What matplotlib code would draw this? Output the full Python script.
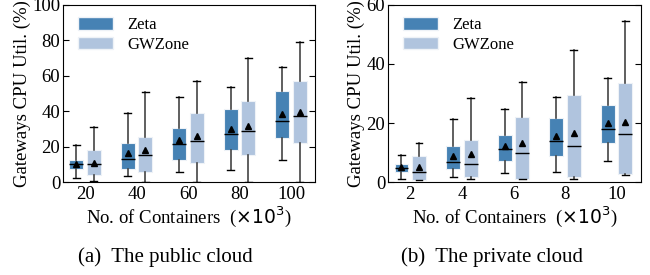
import matplotlib
matplotlib.use("Agg")
import matplotlib.pyplot as plt
from matplotlib.patches import Patch
import numpy as np

plt.rcParams['font.family'] = ['Liberation Serif', 'DejaVu Serif']
plt.rcParams['mathtext.fontset'] = 'dejavusans'

# public cloud (x10^3 containers)
pub_labels = ['20', '40', '60', '80', '100']
pub_zeta_lo = [2.4, 3.2, 5.5, 7.0, 12.6]
pub_zeta_q1 = [7.1, 7.5, 12.2, 17.9, 24.6]
pub_zeta_med = [10.0, 13.0, 21.6, 27.3, 34.6]
pub_zeta_q3 = [12.4, 22.0, 30.5, 41.2, 51.5]
pub_zeta_hi = [20.7, 38.9, 48.0, 53.8, 64.8]
pub_zeta_mean = [10.0, 16.4, 23.5, 30.0, 38.3]

pub_gw_lo = [0.4, 0.0, 0.0, 0.0, 0.0]
pub_gw_q1 = [3.8, 5.8, 10.5, 15.2, 21.8]
pub_gw_med = [10.0, 15.0, 23.1, 29.0, 37.4]
pub_gw_q3 = [17.9, 25.4, 38.9, 45.7, 57.3]
pub_gw_hi = [31.0, 51.0, 57.3, 70.0, 78.8]
pub_gw_mean = [11.0, 18.0, 25.8, 31.4, 39.5]

# private cloud
priv_labels = ['2', '4', '6', '8', '10']
priv_zeta_lo = [1.1, 1.7, 2.9, 3.5, 7.3]
priv_zeta_q1 = [3.4, 4.4, 7.1, 8.8, 13.2]
priv_zeta_med = [4.7, 6.9, 11.3, 13.9, 18.0]
priv_zeta_q3 = [6.1, 12.2, 15.9, 21.7, 26.0]
priv_zeta_hi = [9.0, 21.3, 24.8, 28.8, 35.4]
priv_zeta_mean = [5.0, 8.9, 12.3, 15.6, 20.0]

priv_gw_lo = [0.6, 0.9, 1.1, 1.1, 2.5]
priv_gw_q1 = [0.8, 1.7, 1.1, 1.8, 2.7]
priv_gw_med = [3.4, 6.2, 9.8, 12.3, 16.2]
priv_gw_q3 = [8.9, 14.2, 21.9, 29.4, 33.4]
priv_gw_hi = [13.2, 28.4, 33.9, 44.7, 54.6]
priv_gw_mean = [5.2, 9.4, 13.2, 16.5, 20.5]

ZETA_C = '#4682b4'
GW_C = '#b0c4de'
FS = 13.5


def stats(lo, q1, med, q3, hi, mean):
    return [dict(whislo=a, q1=b, med=c, q3=d, whishi=e, mean=f, fliers=[])
            for a, b, c, d, e, f in zip(lo, q1, med, q3, hi, mean)]


def draw(ax, zeta, gw, labels, ymax, step):
    pos = np.arange(1, len(labels) + 1)
    for st, off, col in [(zeta, -0.17, ZETA_C), (gw, 0.17, GW_C)]:
        ax.bxp(st, positions=pos + off, widths=0.27, patch_artist=True,
               showmeans=True, showfliers=False,
               boxprops=dict(facecolor=col, edgecolor='#eef2f7', linewidth=0.8),
               medianprops=dict(color='black', linewidth=1.0),
               whiskerprops=dict(color='#444444', linewidth=1.2),
               capprops=dict(color='black', linewidth=1.0),
               meanprops=dict(marker='^', markerfacecolor='black',
                              markeredgecolor='black', markersize=5))
    ax.set_xlim(0.57, 5.47)
    ax.set_ylim(0, ymax)
    ax.set_yticks(np.arange(0, ymax + 1, step))
    ax.set_xticks(pos)
    ax.set_xticklabels(labels)
    ax.tick_params(axis='y', direction='in', right=True, labelsize=FS, length=4, pad=2)
    ax.tick_params(axis='x', length=0, labelsize=FS, pad=3)
    ax.set_ylabel('Gateways CPU Util. (%)', fontsize=FS, labelpad=1)
    ax.set_xlabel(r'No. of Containers  ($\times 10^3$)', fontsize=FS, labelpad=1)
    handles = [Patch(facecolor=ZETA_C, edgecolor='#eef2f7', label='Zeta'),
               Patch(facecolor=GW_C, edgecolor='#eef2f7', label='GWZone')]
    ax.legend(handles=handles, loc='upper left', frameon=False, fontsize=12,
              handlelength=2.1, handleheight=0.75, handletextpad=0.85,
              labelspacing=0.2, borderaxespad=0.0, borderpad=0.0,
              bbox_to_anchor=(0.06, 0.93))


fig = plt.figure(figsize=(6.5, 2.75), dpi=100)
ax1 = fig.add_axes([0.097, 0.338, 0.388, 0.644])
ax2 = fig.add_axes([0.597, 0.338, 0.389, 0.644])

draw(ax1, stats(pub_zeta_lo, pub_zeta_q1, pub_zeta_med, pub_zeta_q3, pub_zeta_hi, pub_zeta_mean),
     stats(pub_gw_lo, pub_gw_q1, pub_gw_med, pub_gw_q3, pub_gw_hi, pub_gw_mean),
     pub_labels, 100, 20)
draw(ax2, stats(priv_zeta_lo, priv_zeta_q1, priv_zeta_med, priv_zeta_q3, priv_zeta_hi, priv_zeta_mean),
     stats(priv_gw_lo, priv_gw_q1, priv_gw_med, priv_gw_q3, priv_gw_hi, priv_gw_mean),
     priv_labels, 60, 20)

fig.text(0.254, 0.065, '(a)  The public cloud', ha='center', va='center', fontsize=15)
fig.text(0.757, 0.065, '(b)  The private cloud', ha='center', va='center', fontsize=15)

fig.savefig('out.png', dpi=100)
